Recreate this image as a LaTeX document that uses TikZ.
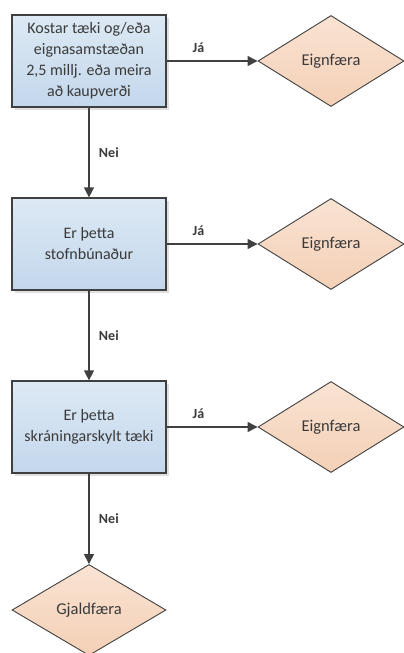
\documentclass[tikz,border=0pt]{standalone}
\usepackage{fontspec}
\setmainfont{Carlito}
\usetikzlibrary{shapes.geometric,shadows,arrows.meta}
\definecolor{linegray}{HTML}{404040}
\definecolor{textgray}{HTML}{3A3A3A}
\definecolor{boxtop}{HTML}{DDE9F4}
\definecolor{boxbot}{HTML}{C3D7EC}
\definecolor{peachtop}{HTML}{F9E3D3}
\definecolor{peachbot}{HTML}{F4D0B6}
\tikzset{
  x = 1pt,
  y = -1pt, % pixel grid, y going down
  test/.style = { % 'question' box style
    rectangle,
    draw = linegray,
    line width = 1.2pt,
    top color = boxtop, % light blue fade
    bottom color = boxbot,
    minimum width = 154pt,
    minimum height = 92pt,
    align = center,
    text = textgray,
    font = \fontsize{16pt}{21pt}\selectfont,
    drop shadow = {shadow xshift=3pt, shadow yshift=-3pt, opacity=.25},
  },
  outcome/.style = { % 'result' diamond style
    diamond,
    draw = linegray,
    line width = .9pt,
    top color = peachtop,
    bottom color = peachbot,
    inner sep = 0pt,
    minimum width = #1, % argument = width
    minimum height = 91pt,
    text = textgray,
    font = \fontsize{16.5pt}{18pt}\selectfont,
  },
  flow/.style = { % connector style
    draw = linegray,
    line width = 1.3pt,
    -{Triangle[length=10pt,width=10pt]},
  },
  answer/.style = { % Já / Nei labels
    font = \fontsize{14pt}{16pt}\selectfont\bfseries,
    text = textgray,
  },
}

\begin{document}
\begin{tikzpicture}
    \useasboundingbox (0,0) rectangle (404,653); % fix page size
    % question boxes
    \node[test] (q1) at (89,61) {Kostar tæki og/eða\\eignasamstæðan\\2,5 millj. eða meira\\að kaupverði};
    \node[test] (q2) at (89,244) {Er þetta\\stofnbúnaður};
    \node[test] (q3) at (89,427) {Er þetta\\skráningarskylt tæki};
    % outcomes
    \foreach \i/\y in {1/61,2/244,3/427}{ % loop through rows
      \node[outcome=146pt] (e\i) at (331,\y) {Eignfæra}; % yes branch
      \draw[flow] (q\i) -- node[answer,pos=.35,above=4pt] {Já} (e\i); % Já arrow
    } % end loop
    \node[outcome=154pt] (g) at (89,610) {Gjaldfæra}; % last no branch
    % Nei arrows
    \draw[flow] (q1) -- node[answer,right=6pt] {Nei} (q2);
    \draw[flow] (q2) -- node[answer,right=6pt] {Nei} (q3);
    \draw[flow] (q3) -- node[answer,right=6pt] {Nei} (g);
\end{tikzpicture}
\end{document}
